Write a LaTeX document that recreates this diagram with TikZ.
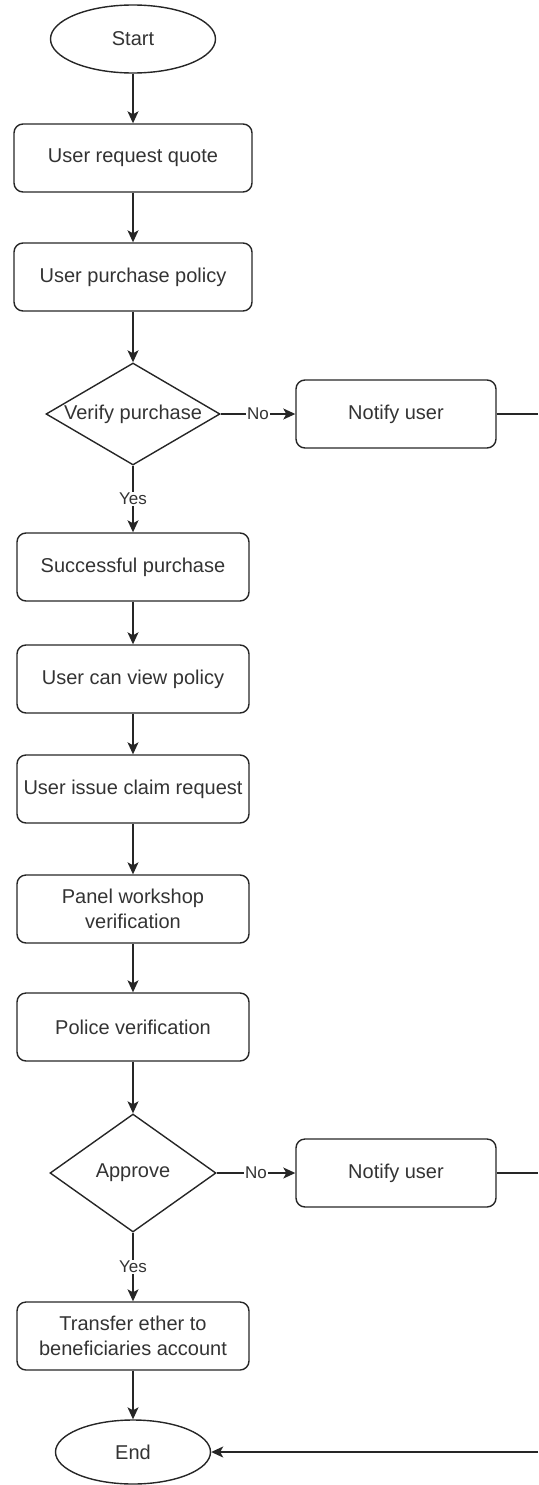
\documentclass[tikz,border=0pt]{standalone}
\usepackage{fontspec}
\setmainfont{Liberation Sans}
\usetikzlibrary{shapes.geometric,arrows.meta}

\begin{document}
\begin{tikzpicture}[x=1pt,y=-1pt,
  every node/.style={font=\fontsize{20}{25}\selectfont, text=black!80},
  flowline/.style={line width=1.4pt, draw=black!85},
  arr/.style={flowline, -{Stealth[length=12pt,width=11pt,inset=3pt]}},
  stepbox/.style={draw=black!85, line width=1.4pt, rectangle, rounded corners=9pt,
    minimum width=232pt, minimum height=68pt, align=center, inner xsep=2pt},
  terminal/.style={draw=black!85, line width=1.4pt, ellipse, inner sep=0pt},
  decision/.style={draw=black!85, line width=1.4pt, diamond, inner sep=0pt},
  edgelabel/.style={font=\fontsize{17}{20}\selectfont, fill=white, inner sep=1pt}]

\useasboundingbox (0,0) rectangle (538,1485);

% main column
\node[terminal, minimum width=165pt, minimum height=68pt] (start) at (133,39) {Start};
\node[stepbox, minimum width=238pt] (quote) at (133,158) {User request quote};
\node[stepbox, minimum width=238pt] (buy) at (133,277) {User purchase policy};
\node[decision, minimum width=174pt, minimum height=102pt] (verify) at (133,414) {};
\node (verifytxt) at (verify) {Verify purchase};
\node[stepbox, minimum width=200pt] (notifyA) at (396,414) {Notify user};
\node[stepbox] (success) at (133,567) {Successful purchase};
\node[stepbox] (view) at (133,679) {User can view policy};
\node[stepbox] (claim) at (133,789) {User issue claim request};
\node[stepbox] (panel) at (133,909) {Panel workshop\\verification};
\node[stepbox] (police) at (133,1027) {Police verification};
\node[decision, minimum width=166pt, minimum height=118pt] (approve) at (133,1173) {};
\node (approvetxt) at (approve) {Approve};
\node[stepbox, minimum width=200pt] (notifyB) at (396,1173) {Notify user};
\node[stepbox] (transfer) at (133,1336) {Transfer ether to\\beneficiaries account};
\node[terminal, minimum width=155pt, minimum height=64pt] (finish) at (133,1452) {End};

% loose ends on the right margin
\coordinate (outA) at (538,414);
\coordinate (outB) at (538,1173);
\coordinate (back) at (538,1452);

% connectors
\draw[arr] (start) -- (quote);
\draw[arr] (quote) -- (buy);
\draw[arr] (buy) -- (verify);
\draw[arr] (verify) -- node[edgelabel] (noA) {No} (notifyA);
\draw[arr] (verify) -- node[edgelabel] (yesA) {Yes} (success);
\draw[flowline] (notifyA) -- (outA);
\draw[arr] (success) -- (view);
\draw[arr] (view) -- (claim);
\draw[arr] (claim) -- (panel);
\draw[arr] (panel) -- (police);
\draw[arr] (police) -- (approve);
\draw[arr] (approve) -- node[edgelabel] (noB) {No} (notifyB);
\draw[arr] (approve) -- node[edgelabel] (yesB) {Yes} (transfer);
\draw[flowline] (notifyB) -- (outB);
\draw[arr] (transfer) -- (finish);
\draw[arr] (back) -- (finish);
\end{tikzpicture}
\end{document}
